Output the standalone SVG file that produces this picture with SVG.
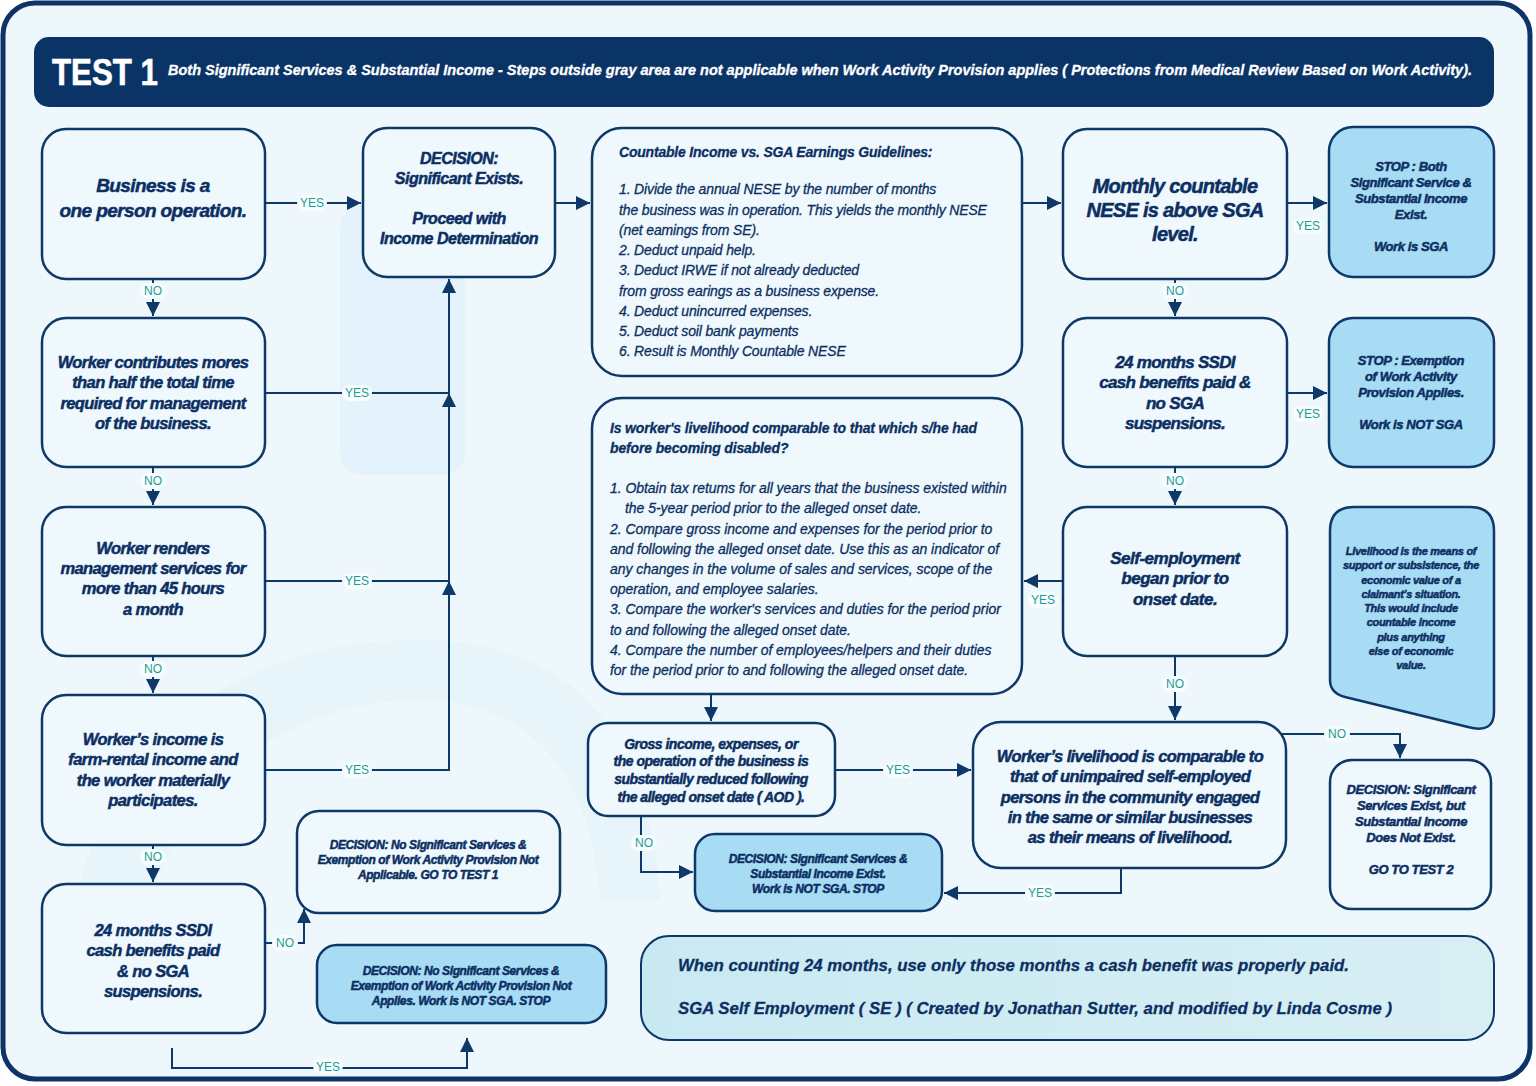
<svg xmlns="http://www.w3.org/2000/svg" width="1536" height="1086" viewBox="0 0 1536 1086">
<defs>
<style>
.box{fill:#eff9fd;stroke:#0e3868;stroke-width:2.5}
.blue{fill:#a8dcf4;stroke:#0e3868;stroke-width:2.5}
.t{font-family:"Liberation Sans",Arial,sans-serif;font-weight:700;font-style:italic;fill:#0c2f63;text-anchor:middle;stroke:#0c2f63;stroke-width:0.5}
.l{font-family:"Liberation Sans",Arial,sans-serif;font-style:italic;fill:#0c2f63;text-anchor:start;stroke:#0c2f63;stroke-width:0.3}
.conn path{fill:none;stroke:#0e3868;stroke-width:2}
.ah{fill:#0e3868}
.lbl rect{fill:#f7fcfe}
.lbl text{font-family:"Liberation Sans",Arial,sans-serif;font-size:12px;fill:#1e9c92;text-anchor:middle}
</style>
<marker id="arr" viewBox="0 0 10 10" refX="10" refY="5" markerUnits="userSpaceOnUse" markerWidth="14" markerHeight="14" orient="auto">
<path d="M0,0 L10,5 L0,10 z" fill="#0e3868"/>
</marker>
<linearGradient id="bg2" x1="0" y1="0" x2="1" y2="0">
<stop offset="0" stop-color="#c9e9f2"/>
<stop offset="1" stop-color="#d8eff4"/>
</linearGradient>
</defs>

<rect x="3" y="3" width="1527" height="1076" rx="32" fill="#edf7fc" stroke="#0d3466" stroke-width="5"/>
<g id="decor" fill="#e4f3fb">
<rect x="340" y="205" width="125" height="270" rx="22"/>
<path d="M60,1030 C60,780 200,640 420,640 C560,640 650,720 660,900 L600,900 C590,760 520,700 420,700 C260,700 130,820 130,1030 Z" opacity="0.7"/>
</g>

<g id="header">
<rect x="34" y="37" width="1460" height="70" rx="15" fill="#0b3466"/>
<text x="52" y="85" font-family="'Liberation Sans',Arial,sans-serif" font-weight="700" font-size="36" fill="#ffffff" stroke="#ffffff" stroke-width="0.6" textLength="106" lengthAdjust="spacingAndGlyphs">TEST 1</text>
<text x="168" y="75" font-family="'Liberation Sans',Arial,sans-serif" font-weight="700" font-style="italic" font-size="14" fill="#ffffff" stroke="#ffffff" stroke-width="0.3" textLength="1304" lengthAdjust="spacingAndGlyphs">Both Significant Services &amp; Substantial Income - Steps outside gray area are not applicable when Work Activity Provision applies ( Protections from Medical Review Based on Work Activity).</text>
</g>

<g id="connectors">
<g class="conn">
<path d="M265,203 H361" marker-end="url(#arr)"/>
<path d="M555,203 H590" marker-end="url(#arr)"/>
<path d="M1022,203 H1061" marker-end="url(#arr)"/>
<path d="M1287,203 H1327" marker-end="url(#arr)"/>
<path d="M153,279 V316" marker-end="url(#arr)"/>
<path d="M265,393 H449"/>
<path d="M265,581 H449"/>
<path d="M265,770 H449 V279" marker-end="url(#arr)"/>
<path d="M153,467 V505" marker-end="url(#arr)"/>
<path d="M153,656 V693" marker-end="url(#arr)"/>
<path d="M153,845 V882" marker-end="url(#arr)"/>
<path d="M265,943 H304 V909" marker-end="url(#arr)"/>
<path d="M172,1048 V1068 H467 V1038" marker-end="url(#arr)"/>
<path d="M1175,279 V316" marker-end="url(#arr)"/>
<path d="M1287,393 H1327" marker-end="url(#arr)"/>
<path d="M1175,467 V505" marker-end="url(#arr)"/>
<path d="M1063,581 H1024" marker-end="url(#arr)"/>
<path d="M1175,656 V720" marker-end="url(#arr)"/>
<path d="M711,694 V721" marker-end="url(#arr)"/>
<path d="M835,770 H971" marker-end="url(#arr)"/>
<path d="M641,816 V872 H693" marker-end="url(#arr)"/>
<path d="M1121,868 V893 H944" marker-end="url(#arr)"/>
<path d="M1280,734 H1400 V758" marker-end="url(#arr)"/>
</g>
<polygon class="ah" points="449,393 442,407 456,407"/>
<polygon class="ah" points="449,581 442,595 456,595"/>
<g class="lbl">
<rect x="297" y="195" width="30" height="16" rx="8"/><text x="312" y="207">YES</text>
<rect x="342" y="385" width="30" height="16" rx="8"/><text x="357" y="397">YES</text>
<rect x="342" y="573" width="30" height="16" rx="8"/><text x="357" y="585">YES</text>
<rect x="342" y="762" width="30" height="16" rx="8"/><text x="357" y="774">YES</text>
<rect x="140" y="283" width="26" height="16" rx="8"/><text x="153" y="295">NO</text>
<rect x="140" y="473" width="26" height="16" rx="8"/><text x="153" y="485">NO</text>
<rect x="140" y="661" width="26" height="16" rx="8"/><text x="153" y="673">NO</text>
<rect x="140" y="849" width="26" height="16" rx="8"/><text x="153" y="861">NO</text>
<rect x="272" y="935" width="26" height="16" rx="8"/><text x="285" y="947">NO</text>
<rect x="313" y="1058" width="30" height="16" rx="8"/><text x="328" y="1071">YES</text>
<rect x="1293" y="218" width="30" height="16" rx="8"/><text x="1308" y="230">YES</text>
<rect x="1293" y="406" width="30" height="16" rx="8"/><text x="1308" y="418">YES</text>
<rect x="1162" y="283" width="26" height="16" rx="8"/><text x="1175" y="295">NO</text>
<rect x="1162" y="473" width="26" height="16" rx="8"/><text x="1175" y="485">NO</text>
<rect x="1162" y="676" width="26" height="16" rx="8"/><text x="1175" y="688">NO</text>
<rect x="1028" y="592" width="30" height="16" rx="8"/><text x="1043" y="604">YES</text>
<rect x="883" y="762" width="30" height="16" rx="8"/><text x="898" y="774">YES</text>
<rect x="631" y="835" width="26" height="16" rx="8"/><text x="644" y="847">NO</text>
<rect x="1025" y="885" width="30" height="16" rx="8"/><text x="1040" y="897">YES</text>
<rect x="1324" y="726" width="26" height="16" rx="8"/><text x="1337" y="738">NO</text>
</g>
</g>

<g id="n1">
<rect class="box" x="42" y="129" width="223" height="150" rx="24"/>
<text class="t" font-size="19" letter-spacing="-0.6"><tspan x="153" y="192">Business is a</tspan><tspan x="153" y="217">one person operation.</tspan></text>
</g>
<g id="n2">
<rect class="box" x="42" y="318" width="223" height="149" rx="24"/>
<text class="t" font-size="16.5" letter-spacing="-0.6"><tspan x="153" y="368">Worker contributes mores</tspan><tspan x="153" y="388">than half the total time</tspan><tspan x="153" y="409">required for management</tspan><tspan x="153" y="429">of the business.</tspan></text>
</g>
<g id="n3">
<rect class="box" x="42" y="507" width="223" height="149" rx="24"/>
<text class="t" font-size="16.5" letter-spacing="-0.6"><tspan x="153" y="554">Worker renders</tspan><tspan x="153" y="574">management services for</tspan><tspan x="153" y="594">more than 45 hours</tspan><tspan x="153" y="615">a month</tspan></text>
</g>
<g id="n4">
<rect class="box" x="42" y="695" width="223" height="150" rx="24"/>
<text class="t" font-size="16.5" letter-spacing="-0.6"><tspan x="153" y="745">Worker’s income is</tspan><tspan x="153" y="765">farm-rental income and</tspan><tspan x="153" y="786">the worker materially</tspan><tspan x="153" y="806">participates.</tspan></text>
</g>
<g id="n5">
<rect class="box" x="42" y="884" width="223" height="149" rx="24"/>
<text class="t" font-size="16.5" letter-spacing="-0.6"><tspan x="153" y="936">24 months SSDI</tspan><tspan x="153" y="956">cash benefits paid</tspan><tspan x="153" y="977">&amp; no SGA</tspan><tspan x="153" y="997">suspensions.</tspan></text>
</g>
<g id="d1">
<rect class="box" x="363" y="128" width="192" height="149" rx="24"/>
<text class="t" font-size="16" letter-spacing="-0.5"><tspan x="459" y="164">DECISION:</tspan><tspan x="459" y="184">Significant Exists.</tspan><tspan x="459" y="224">Proceed with</tspan><tspan x="459" y="244">Income Determination</tspan></text>
</g>
<g id="c1">
<rect class="box" x="592" y="128" width="430" height="248" rx="30"/>
<text class="l" font-size="14" font-weight="700" letter-spacing="-0.2" x="619" y="157">Countable Income vs. SGA Earnings Guidelines:</text>
<text class="l" font-size="14" letter-spacing="-0.15">
<tspan x="619" y="194">1.  Divide the annual NESE by the number of months</tspan>
<tspan x="619" y="215">the business was in operation. This yields the monthly NESE</tspan>
<tspan x="619" y="235">(net eamings from SE).</tspan>
<tspan x="619" y="255">2. Deduct unpaid help.</tspan>
<tspan x="619" y="275">3. Deduct IRWE if not already deducted</tspan>
<tspan x="619" y="296">from gross earings as a business expense.</tspan>
<tspan x="619" y="316">4. Deduct unincurred expenses.</tspan>
<tspan x="619" y="336">5. Deduct soil bank payments</tspan>
<tspan x="619" y="356">6. Result is Monthly Countable NESE</tspan>
</text>
</g>
<g id="m1">
<rect class="box" x="1063" y="129" width="224" height="150" rx="24"/>
<text class="t" font-size="20" letter-spacing="-0.7"><tspan x="1175" y="193">Monthly countable</tspan><tspan x="1175" y="217">NESE is above SGA</tspan><tspan x="1175" y="241">level.</tspan></text>
</g>
<g id="s1">
<rect class="blue" x="1329" y="127" width="165" height="150" rx="24"/>
<text class="t" font-size="13" letter-spacing="-0.4"><tspan x="1411" y="171">STOP : Both</tspan><tspan x="1411" y="187">Significant Service &amp;</tspan><tspan x="1411" y="203">Substantial Income</tspan><tspan x="1411" y="219">Exist.</tspan><tspan x="1411" y="251">Work is SGA</tspan></text>
</g>
<g id="m2">
<rect class="box" x="1063" y="318" width="224" height="149" rx="24"/>
<text class="t" font-size="17" letter-spacing="-0.7"><tspan x="1175" y="368">24 months SSDI</tspan><tspan x="1175" y="388">cash benefits paid &amp;</tspan><tspan x="1175" y="409">no SGA</tspan><tspan x="1175" y="429">suspensions.</tspan></text>
</g>
<g id="s2">
<rect class="blue" x="1329" y="318" width="165" height="149" rx="24"/>
<text class="t" font-size="13" letter-spacing="-0.4"><tspan x="1411" y="365">STOP : Exemption</tspan><tspan x="1411" y="381">of Work Activity</tspan><tspan x="1411" y="397">Provision Applies.</tspan><tspan x="1411" y="429">Work is NOT SGA</tspan></text>
</g>
<g id="m3">
<rect class="box" x="1063" y="507" width="224" height="149" rx="24"/>
<text class="t" font-size="17" letter-spacing="-0.5"><tspan x="1175" y="564">Self-employment</tspan><tspan x="1175" y="584">began prior to</tspan><tspan x="1175" y="605">onset date.</tspan></text>
</g>
<g id="note">
<path class="blue" d="M1354,507 H1470 Q1494,507 1494,531 V712 Q1494,734 1468,727 L1345,697 Q1330,693 1330,680 V531 Q1330,507 1354,507 Z"/>
<text class="t" font-size="11" letter-spacing="-0.3" stroke-width="0.35"><tspan x="1411" y="555">Livelihood is the means of</tspan><tspan x="1411" y="569">support or subsistence, the</tspan><tspan x="1411" y="584">economic value of a</tspan><tspan x="1411" y="598">claimant’s situation.</tspan><tspan x="1411" y="612">This would include</tspan><tspan x="1411" y="626">countable income</tspan><tspan x="1411" y="641">plus anything</tspan><tspan x="1411" y="655">else of economic</tspan><tspan x="1411" y="669">value.</tspan></text>
</g>
<g id="c2">
<rect class="box" x="592" y="398" width="430" height="296" rx="30"/>
<text class="l" font-size="14" font-weight="700" letter-spacing="-0.15"><tspan x="610" y="433">Is worker's livelihood comparable to that which s/he had</tspan><tspan x="610" y="453">before becoming disabled?</tspan></text>
<text class="l" font-size="14" letter-spacing="-0.05">
<tspan x="610" y="493">1.  Obtain tax retums for all years that the business existed within</tspan>
<tspan x="625" y="513">the 5-year period prior to the alleged onset date.</tspan>
<tspan x="610" y="534">2. Compare gross income and expenses for the period prior to</tspan>
<tspan x="610" y="554">and following the alleged onset date. Use this as an indicator of</tspan>
<tspan x="610" y="574">any changes in the volume of sales and services, scope of the</tspan>
<tspan x="610" y="594">operation, and employee salaries.</tspan>
<tspan x="610" y="614">3. Compare the worker's services and duties for the period prior</tspan>
<tspan x="610" y="635">to and following the alleged onset date.</tspan>
<tspan x="610" y="655">4. Compare the number of employees/helpers and their duties</tspan>
<tspan x="610" y="675">for the period prior to and following the alleged onset date.</tspan>
</text>
</g>
<g id="g1">
<rect class="box" x="588" y="723" width="247" height="93" rx="20"/>
<text class="t" font-size="14" letter-spacing="-0.5" stroke-width="0.4"><tspan x="711" y="749">Gross income, expenses, or</tspan><tspan x="711" y="766">the operation of the business is</tspan><tspan x="711" y="784">substantially reduced following</tspan><tspan x="711" y="802">the alleged onset date ( AOD ).</tspan></text>
</g>
<g id="d3">
<rect class="blue" x="695" y="834" width="247" height="77" rx="20"/>
<text class="t" font-size="12" letter-spacing="-0.4" stroke-width="0.35"><tspan x="818" y="863">DECISION: Significant Services &amp;</tspan><tspan x="818" y="878">Substantial Income Exist.</tspan><tspan x="818" y="893">Work is NOT SGA. STOP</tspan></text>
</g>
<g id="l1">
<rect class="box" x="973" y="722" width="313" height="146" rx="28"/>
<text class="t" font-size="16.5" letter-spacing="-0.6"><tspan x="1130" y="762">Worker’s livelihood is comparable to</tspan><tspan x="1130" y="782">that of unimpaired self-employed</tspan><tspan x="1130" y="803">persons in the community engaged</tspan><tspan x="1130" y="823">in the same or similar businesses</tspan><tspan x="1130" y="843">as their means of livelihood.</tspan></text>
</g>
<g id="d4">
<rect class="box" x="1330" y="760" width="161" height="149" rx="22"/>
<text class="t" font-size="13" letter-spacing="-0.4" stroke-width="0.4"><tspan x="1411" y="794">DECISION: Significant</tspan><tspan x="1411" y="810">Services Exist, but</tspan><tspan x="1411" y="826">Substantial Income</tspan><tspan x="1411" y="842">Does Not Exist.</tspan><tspan x="1411" y="874">GO TO TEST 2</tspan></text>
</g>
<g id="e1">
<rect class="box" x="297" y="811" width="263" height="102" rx="22"/>
<text class="t" font-size="12" letter-spacing="-0.4" stroke-width="0.35"><tspan x="428" y="849">DECISION: No Significant Services &amp;</tspan><tspan x="428" y="864">Exemption of Work Activity Provision Not</tspan><tspan x="428" y="879">Applicable. GO TO TEST 1</tspan></text>
</g>
<g id="e2">
<rect class="blue" x="317" y="945" width="289" height="78" rx="20"/>
<text class="t" font-size="12" letter-spacing="-0.4" stroke-width="0.35"><tspan x="461" y="975">DECISION: No Significant Services &amp;</tspan><tspan x="461" y="990">Exemption of Work Activity Provision Not</tspan><tspan x="461" y="1005">Applies. Work is NOT SGA. STOP</tspan></text>
</g>
<g id="banner">
<rect x="641" y="936" width="853" height="104" rx="28" fill="url(#bg2)" stroke="#0e3868" stroke-width="2"/>
<text class="l" font-size="17" font-weight="700" stroke-width="0.5" x="678" y="971" textLength="671" lengthAdjust="spacingAndGlyphs">When counting 24 months, use only those months a cash benefit was properly paid.</text>
<text class="l" font-size="17" font-weight="700" stroke-width="0.5" x="678" y="1014" textLength="714" lengthAdjust="spacingAndGlyphs">SGA Self Employment ( SE ) ( Created by Jonathan Sutter, and modified by Linda Cosme )</text>
</g>
</svg>
